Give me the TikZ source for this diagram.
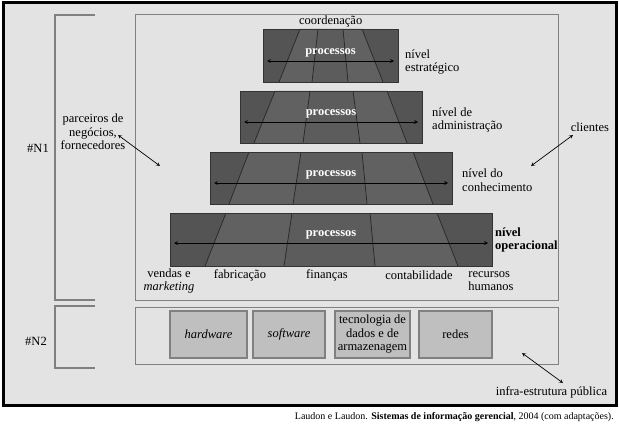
\documentclass[tikz,border=0pt]{standalone}
\usepackage{fontspec}
\setmainfont{Liberation Serif}
\usepackage{tikz}
\usetikzlibrary{arrows,positioning}

\begin{document}
\begin{tikzpicture}[x=1pt, y=-1pt, >=stealth, font=\fontsize{12.5}{13.5}\selectfont]
    \tikzstyle{moldura}=[draw=black!50, line width=1.2pt]
    \tikzstyle{camada}=[fill=black!67, inner sep=0pt, anchor=north west]
    \tikzstyle{borda}=[draw=black!80, line width=0.7pt]
    \tikzstyle{faixa}=[fill=black!62]
    \tikzstyle{meio}=[fill=black!64]
    \tikzstyle{divisa}=[draw=black!85, line width=0.7pt]
    \tikzstyle{seta}=[<->, line width=0.7pt]
    \tikzstyle{processos}=[text=white, inner sep=0pt, font=\fontsize{12.5}{13.5}\selectfont\bfseries]
    \tikzstyle{nivel}=[align=left, anchor=west, inner sep=0pt]
    \tikzstyle{rotulo}=[align=center, inner sep=0pt]
    \tikzstyle{infra}=[draw=black!50, fill=black!25, line width=1.2pt, minimum height=47, inner sep=0pt, align=center]

    \useasboundingbox (0,0) rectangle (619,428);

    % Moldura externa
    \draw[line width=3pt, fill=black!11] (3,2.5) rectangle (616.5,405.5);

    % Blocos e chaves
    \node[moldura, anchor=north west, minimum width=423, minimum height=286] (N1) at (135,14) {};
    \node[moldura, anchor=north west, minimum width=423, minimum height=57]  (N2) at (135,306.5) {};
    \draw[moldura] (95,15) -- (55,15) -- (55,300) -- (95,300);
    \draw[moldura] (95,306) -- (55,306) -- (55,368) -- (95,368);
    \node (N1-txt) at (38,148) {\#N1};
    \node (N2-txt) at (36,341) {\#N2};

    % Camadas da piramide
    \foreach \n/\xa/\ya/\xb/\yb/\ym/\ta/\ba/\tb/\bb/\tc/\bc/\td/\bd in {
        estrategico/263/29/398/82/61/300/279/318/312/343/348/362/383,
        administracao/240/91/422/143/122/275/254/310/303/353/360/387/407,
        conhecimento/210/152/452/204/183/249/229/301/293/362/367/413/433,
        operacional/170/213/492/266/243/226/205/292/284/370/375/437/458}
    {
        \node[camada, minimum width=\xb-\xa, minimum height=\yb-\ya] (\n) at (\xa,\ya) {};
        \fill[faixa] (\ta,\ya) -- (\tb,\ya) -- (\bb,\yb) -- (\ba,\yb) -- cycle;
        \fill[meio]  (\tb,\ya) -- (\tc,\ya) -- (\bc,\yb) -- (\bb,\yb) -- cycle;
        \fill[faixa] (\tc,\ya) -- (\td,\ya) -- (\bd,\yb) -- (\bc,\yb) -- cycle;
        \foreach \t/\b in {\ta/\ba,\tb/\bb,\tc/\bc,\td/\bd}
            \draw[divisa] (\t,\ya) -- (\b,\yb);
        \draw[borda] (\n.north west) rectangle (\n.south east);
        \coordinate (\n-e) at (\xa+4,\ym);
        \coordinate (\n-d) at (\xb-4,\ym);
        \draw[seta] (\n-e) -- (\n-d);
        \node[processos] (\n-p) at ({(\xa+\xb)/2},\ym-8) {processos};
    }

    % Rotulos dos niveis
    \node[rotulo, above=2pt of estrategico] (coordenacao) {coordenação};
    \node[nivel] (n-estrategico)   at (405,62)  {nível\\estratégico};
    \node[nivel] (n-administracao) at (432,120) {nível de\\administração};
    \node[nivel] (n-conhecimento)  at (462,180) {nível do\\conhecimento};
    \node[nivel, font=\fontsize{12.5}{13.5}\selectfont\bfseries] (n-operacional) at (495,240) {nível\\operacional};

    % Areas funcionais
    \node[rotulo] (vendas)        at (169,281) {vendas e\\\textit{marketing}};
    \node[rotulo] (fabricacao)    at (240,275) {fabricação};
    \node[rotulo] (financas)      at (327,275) {finanças};
    \node[rotulo] (contabilidade) at (419,275) {contabilidade};
    \node[rotulo, align=left] (recursos) at (491,281) {recursos\\humanos};

    % Parceiros e clientes
    \node[rotulo] (parceiros) at (93,132) {parceiros de\\negócios,\\fornecedores};
    \coordinate (parceiros-o) at (118,135);
    \coordinate (parceiros-a) at (160,166);
    \draw[seta] (parceiros-o) -- (parceiros-a);
    \node[rotulo] (clientes) at (590,127) {clientes};
    \coordinate (clientes-o) at (573,135);
    \coordinate (clientes-a) at (531,166);
    \draw[seta] (clientes-o) -- (clientes-a);

    % Infra-estrutura
    \node[infra, minimum width=77] (hardware)   at (208.5,334.5) {\textit{hardware}};
    \node[infra, minimum width=72] (software)   at (289,334.5)   {\textit{software}};
    \node[infra, minimum width=75] (tecnologia) at (372.5,334.5) {tecnologia de\\dados e de\\armazenagem};
    \node[infra, minimum width=73] (redes)      at (455.5,334.5) {redes};
    \node[rotulo] (publica) at (551.5,392) {infra-estrutura pública};
    \coordinate (publica-o) at (522,353);
    \coordinate (publica-a) at (563,383);
    \draw[seta] (publica-o) -- (publica-a);

    % Fonte
    \node[anchor=east, inner sep=0pt, font=\fontsize{10}{11}\selectfont] (fonte) at (614,417)
        {Laudon e Laudon. \textbf{Sistemas de informação gerencial}, 2004 (com adaptações).};
\end{tikzpicture}
\end{document}
